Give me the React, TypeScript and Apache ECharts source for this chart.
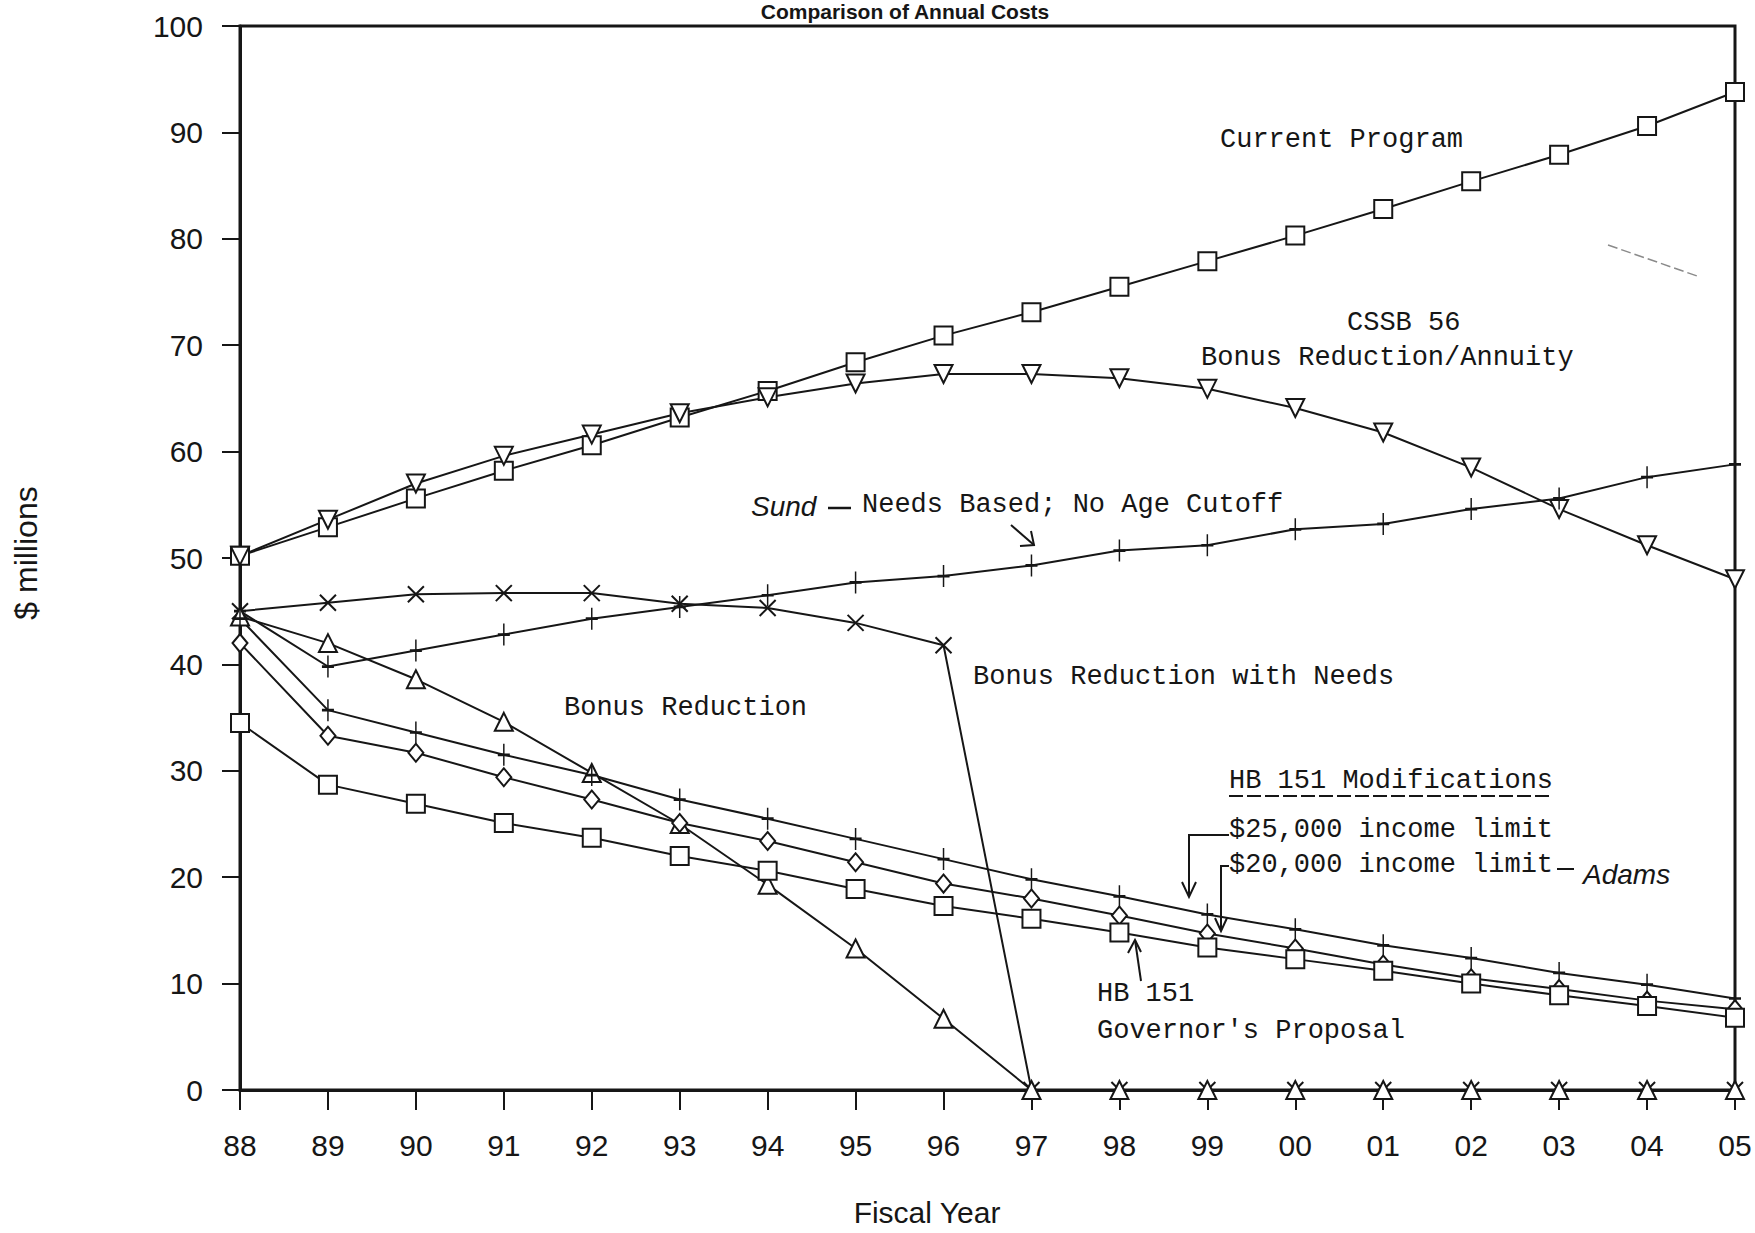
import React, { useEffect, useRef } from 'react';
import * as echarts from 'echarts';

const years = ['88', '89', '90', '91', '92', '93', '94', '95', '96', '97', '98', '99', '00', '01', '02', '03', '04', '05'];

const currentProgram = [50.2, 52.9, 55.6, 58.2, 60.6, 63.2, 65.7, 68.4, 70.9, 73.1, 75.5, 77.9, 80.3, 82.8, 85.4, 87.9, 90.6, 93.8];
const cssb56 = [50.2, 53.6, 57.0, 59.6, 61.6, 63.6, 65.1, 66.4, 67.3, 67.3, 66.9, 65.9, 64.1, 61.8, 58.5, 54.6, 51.2, 48.0];
const needsBased = [45.0, 39.8, 41.3, 42.8, 44.3, 45.4, 46.5, 47.7, 48.3, 49.3, 50.7, 51.2, 52.7, 53.2, 54.6, 55.6, 57.6, 58.8];
const bonusWithNeeds = [45.0, 45.8, 46.6, 46.7, 46.7, 45.7, 45.3, 43.9, 41.8, 0, 0, 0, 0, 0, 0, 0, 0, 0];
const bonusReduction = [44.5, 42.0, 38.6, 34.6, 29.8, 25.0, 19.3, 13.3, 6.7, 0, 0, 0, 0, 0, 0, 0, 0, 0];
const income25k = [44.3, 35.7, 33.6, 31.5, 29.6, 27.3, 25.5, 23.6, 21.7, 19.8, 18.2, 16.5, 15.1, 13.6, 12.4, 11.0, 9.9, 8.6];
const income20k = [42.0, 33.3, 31.7, 29.4, 27.3, 25.1, 23.4, 21.4, 19.4, 18.0, 16.4, 14.7, 13.3, 11.8, 10.5, 9.5, 8.4, 7.6];
const hb151 = [34.5, 28.7, 26.9, 25.1, 23.7, 22.0, 20.6, 18.9, 17.3, 16.1, 14.8, 13.4, 12.3, 11.2, 10.0, 8.9, 7.9, 6.8];

const yMin = 0;
const yMax = 100;
const yStep = 10;

const INK = '#161616';
const MONO = '"Liberation Mono", "DejaVu Sans Mono", monospace';
const SANS = '"Liberation Sans", Arial, sans-serif';

export default function App() {
  const ref = useRef<HTMLDivElement>(null);

  useEffect(() => {
    if (!ref.current) return;
    const chart = echarts.init(ref.current, null, { renderer: 'svg' });

    const plus = 'path://M6,0L6,22M0,11L12,11';
    const cross = 'path://M0,0L10,10M10,0L0,10';

    const mk = (name: string, data: number[], symbol: string, size: any, rotate = 0) => ({
      name,
      type: 'line',
      data,
      symbol,
      symbolSize: size,
      symbolRotate: rotate,
      showSymbol: true,
      showAllSymbol: true,
      lineStyle: { color: INK, width: 2 },
      itemStyle: { color: INK, borderColor: INK, borderWidth: 2 },
      emphasis: { disabled: true },
      z: 3,
    });

    const txt = (text: string, x: number, y: number, extra: any = {}) => ({
      type: 'text',
      x,
      y,
      z: 20,
      style: {
        text,
        fill: INK,
        font: '27px ' + MONO,
        align: 'left',
        verticalAlign: 'middle',
        ...extra,
      },
    });

    const seg = (points: number[][], width = 2, color = INK, dash: any = null) => ({
      type: 'polyline',
      z: 20,
      shape: { points },
      style: { stroke: color, lineWidth: width, fill: null, lineDash: dash },
    });

    chart.setOption({
      animation: false,
      backgroundColor: '#ffffff',
      grid: {
        left: 240,
        top: 26,
        right: 20,
        bottom: 143,
        show: true,
        borderColor: INK,
        borderWidth: 3,
        backgroundColor: 'transparent',
      },
      xAxis: {
        type: 'category',
        data: years,
        boundaryGap: false,
        axisLine: { show: true, lineStyle: { color: INK, width: 3 } },
        axisTick: { show: true, length: 20, inside: false, lineStyle: { color: INK, width: 2 } },
        axisLabel: { color: INK, fontSize: 30, fontFamily: SANS, margin: 40, interval: 0 },
        splitLine: { show: false },
      },
      yAxis: {
        type: 'value',
        min: yMin,
        max: yMax,
        interval: yStep,
        axisLine: { show: true, lineStyle: { color: INK, width: 3 } },
        axisTick: { show: true, length: 18, inside: false, lineStyle: { color: INK, width: 2 } },
        axisLabel: { color: INK, fontSize: 30, fontFamily: SANS, margin: 37 },
        splitLine: { show: false },
      },
      series: [
        mk('Current Program', currentProgram, 'emptyRect', 18),
        mk('CSSB 56 Bonus Reduction/Annuity', cssb56, 'emptyTriangle', 18, 180),
        mk('Needs Based; No Age Cutoff', needsBased, plus, [12, 22]),
        mk('Bonus Reduction with Needs', bonusWithNeeds, cross, 16),
        mk('Bonus Reduction', bonusReduction, 'emptyTriangle', 18),
        mk('$25,000 income limit', income25k, plus, [12, 22]),
        mk('$20,000 income limit', income20k, 'emptyDiamond', [15, 18]),
        mk("HB 151 Governor's Proposal", hb151, 'emptyRect', 18),
      ],
      graphic: [
        {
          type: 'text',
          x: 905,
          y: 1,
          z: 20,
          style: {
            text: 'Comparison of Annual Costs',
            fill: INK,
            font: 'bold 21px ' + SANS,
            align: 'center',
            verticalAlign: 'top',
          },
        },
        {
          type: 'text',
          x: 26,
          y: 553,
          rotation: Math.PI / 2,
          z: 20,
          style: {
            text: '$ millions',
            fill: INK,
            font: '32px ' + SANS,
            align: 'center',
            verticalAlign: 'middle',
          },
        },
        {
          type: 'text',
          x: 927,
          y: 1212,
          z: 20,
          style: {
            text: 'Fiscal Year',
            fill: INK,
            font: '30px ' + SANS,
            align: 'center',
            verticalAlign: 'middle',
          },
        },
        txt('Current Program', 1220, 140),
        txt('CSSB 56', 1347, 323),
        txt('Bonus Reduction/Annuity', 1201, 358),
        txt('Sund', 751, 506, { font: 'italic 28px ' + SANS }),
        seg([[828, 508], [851, 508]], 2.5),
        txt('Needs Based; No Age Cutoff', 862, 505),
        seg([[1011, 525], [1034, 545]], 2),
        seg([[1020, 546], [1034, 545], [1031, 531]], 2),
        txt('Bonus Reduction with Needs', 973, 677),
        txt('Bonus Reduction', 564, 708),
        txt('HB 151 Modifications', 1229, 781),
        seg([[1229, 796], [1552, 796]], 2, INK, [14, 4]),
        txt('$25,000 income limit', 1229, 830),
        txt('$20,000 income limit', 1229, 865),
        seg([[1557, 869], [1574, 869]], 2),
        txt('Adams', 1583, 874, { font: 'italic 28px ' + SANS }),
        seg([[1229, 835], [1189, 835], [1189, 897]], 2),
        seg([[1182, 882], [1189, 897], [1196, 882]], 2),
        seg([[1229, 866], [1221, 866], [1221, 931]], 2),
        seg([[1215, 918], [1221, 931], [1227, 918]], 2),
        seg([[1141, 981], [1135, 940]], 2),
        seg([[1128, 953], [1135, 940], [1141, 952]], 2),
        txt('HB 151', 1097, 994),
        txt("Governor's Proposal", 1097, 1031),
        seg([[1608, 245], [1700, 277]], 1.5, '#8a8a8a', [10, 4]),
      ],
    });

    return () => chart.dispose();
  }, []);

  return (
    <div
      ref={ref}
      style={{ position: 'absolute', left: 0, top: 0, width: 1755, height: 1233, background: '#fff' }}
    />
  );
}
